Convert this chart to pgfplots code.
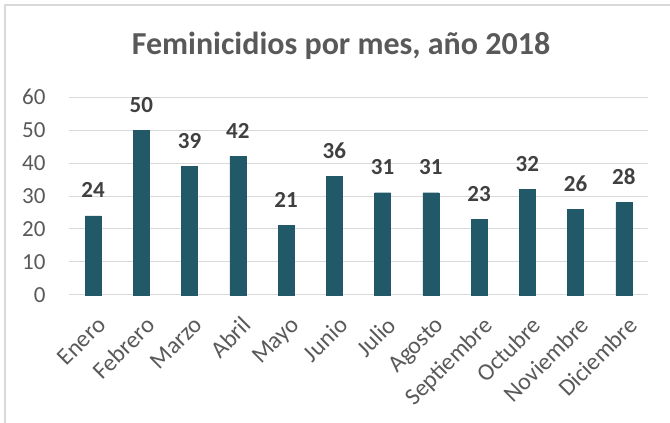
\documentclass[border=0pt]{standalone}
\usepackage{pgfplots}
\pgfplotsset{compat=1.18}
\usepackage{fontspec}
\setmainfont{Carlito}
\definecolor{barc}{RGB}{34,89,104}
\definecolor{txtc}{RGB}{89,89,89}
\definecolor{lblc}{RGB}{64,64,64}
\definecolor{gridc}{RGB}{217,217,217}
\begin{document}
\begin{tikzpicture}[x=1pt,y=1pt]
\path[use as bounding box] (0,0) rectangle (670,423);
\draw[gridc,line width=1.2pt] (5,0) -- (5,418) -- (670,418);
\node[font=\fontsize{32}{36}\selectfont\bfseries, text=txtc] at (341,377) {Feminicidios por mes, año 2018};
\begin{axis}[
  at={(69pt,128pt)}, anchor=south west,
  scale only axis, width=579pt, height=198pt,
  xmin=-0.5, xmax=11.5, ymin=0, ymax=60,
  ytick={0,10,...,60},
  xtick={0,...,11},
  minor xtick={}, minor ytick={},
  xtick style={draw=none}, ytick style={draw=none},
  xticklabels={Enero,Febrero,Marzo,Abril,Mayo,Junio,Julio,Agosto,Septiembre,Octubre,Noviembre,Diciembre},
  x tick label style={xshift=3pt, yshift=-20pt, rotate=45, anchor=north east, font=\fontsize{24}{28}\selectfont, text=txtc, inner sep=0pt},
  y tick label style={font=\fontsize{23}{26}\selectfont, text=txtc, xshift=-20pt},
  /pgf/number format/assume math mode=true,
  ymajorgrids=true,
  grid style={draw=gridc, line width=1pt},
  axis x line*=bottom, axis y line*=left,
  y axis line style={draw=none},
  x axis line style={draw=gridc, line width=1pt},
  major tick length=0pt,
  ybar, bar width=16pt,
  nodes near coords,
  nodes near coords style={font=\fontsize{23}{26}\selectfont\bfseries, text=lblc, anchor=base, inner sep=0pt, yshift=18pt},
  clip=false,
]
\addplot[fill=barc, draw=barc] coordinates {(0,24) (1,50) (2,39) (3,42) (4,21) (5,36) (6,31) (7,31) (8,23) (9,32) (10,26) (11,28)};
\end{axis}
\end{tikzpicture}
\end{document}
